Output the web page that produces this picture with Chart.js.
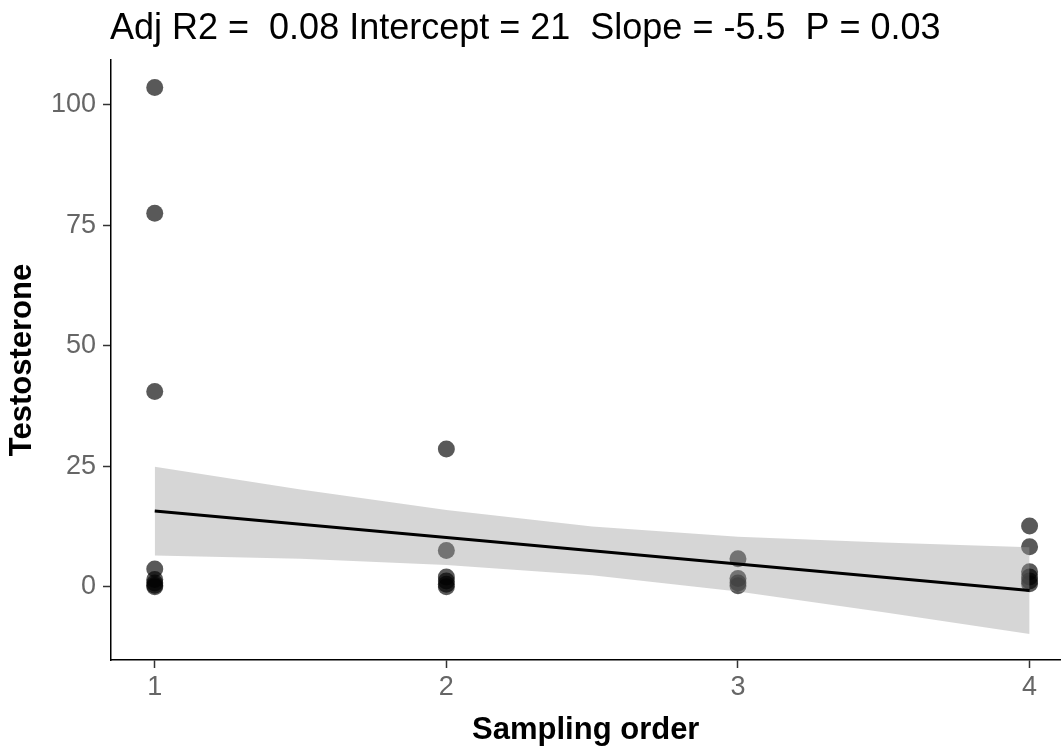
<!DOCTYPE html>
<html>
<head>
<meta charset="utf-8">
<script src="https://cdn.jsdelivr.net/npm/chart.js@4"></script>
<style>
  html, body { margin: 0; padding: 0; background: #fff; overflow: hidden; }
  /* slightly wider than the window: the reference panel is cut off at the right edge */
  #wrap { width: 1069px; height: 753px; }
</style>
</head>
<body>
<div id="wrap"><canvas id="testo-plot"></canvas></div>
<script>
// sampling order (x) and testosterone (y)
const sampleX = [1, 1, 1, 1, 1, 1, 1, 1,
                 2, 2, 2, 2, 2, 2,
                 3, 3, 3, 3,
                 4, 4, 4, 4, 4, 4]
const sampleY = [103.6, 77.5, 40.5, 3.7, 1.5, 0.8, 0.3, 0,
                 28.6, 7.5, 2.0, 1.2, 0.5, 0,
                 5.8, 1.7, 0.8, 0.2,
                 12.6, 8.3, 3.1, 2.0, 1.2, 0.6]

// fitted line and confidence band
const fitX = [1, 4]
const fitY = [15.7, -0.8]
const bandX = [1, 1.5, 2, 2.5, 3, 3.5, 4]
const bandUpper = [24.9, 20.2, 15.9, 12.5, 10.4, 9.2, 8.2]
const bandLower = [6.5, 5.8, 4.5, 2.4, -1.0, -5.3, -9.8]

const xTicks = [1, 2, 3, 4]
const yTicks = [0, 25, 50, 75, 100]
const titleText = 'Adj R2 =  0.08 Intercept = 21  Slope = -5.5  P = 0.03'

const FONT = '"Liberation Sans", Arial, sans-serif'
const toPts = (xs, ys) => xs.map((x, i) => ({ x: x, y: ys[i] }))

const titlePlugin = {
  id: 'topTitle',
  afterDraw(chart) {
    const ctx = chart.ctx
    ctx.save()
    ctx.fillStyle = '#000'
    ctx.font = '36px ' + FONT
    ctx.textBaseline = 'middle'
    ctx.fillText(titleText, 110, 29)
    ctx.restore()
  },
}

const axisGrid = { display: true, drawOnChartArea: false, drawTicks: true, tickLength: 8, tickColor: '#333', tickWidth: 1.5 }

const cfg = {
  type: 'scatter',
  data: {
    datasets: [
      {
        label: 'samples',
        data: toPts(sampleX, sampleY),
        backgroundColor: 'rgba(0,0,0,0.65)',
        borderWidth: 0,
        pointRadius: 8.5,
        order: 3,
      },
      {
        label: 'upper',
        type: 'line',
        data: toPts(bandX, bandUpper),
        borderWidth: 0,
        pointRadius: 0,
        backgroundColor: 'rgba(153,153,153,0.4)',
        fill: '+1',
        order: 2,
      },
      {
        label: 'lower',
        type: 'line',
        data: toPts(bandX, bandLower),
        borderWidth: 0,
        pointRadius: 0,
        fill: false,
        order: 2,
      },
      {
        label: 'fit',
        type: 'line',
        data: toPts(fitX, fitY),
        borderColor: '#000',
        borderWidth: 3,
        pointRadius: 0,
        fill: false,
        order: 1,
      },
    ],
  },
  options: {
    responsive: true,
    maintainAspectRatio: false,
    animation: false,
    layout: { padding: { top: 60, right: 0, left: 0, bottom: 0 } },
    plugins: {
      legend: { display: false },
      tooltip: { enabled: false },
    },
    scales: {
      x: {
        type: 'linear',
        min: 0.85,
        max: 4.106,
        afterBuildTicks: (s) => { s.ticks = xTicks.map(v => ({ value: v })) },
        afterFit: (s) => { s.height = 93 },
        grid: axisGrid,
        border: { display: true, color: '#000', width: 1.5 },
        ticks: { color: '#666', font: { family: FONT, size: 27 }, padding: 3 },
        title: { display: true, text: 'Sampling order', color: '#000', font: { family: FONT, size: 31, weight: 'bold' }, padding: { top: 0 } },
      },
      y: {
        type: 'linear',
        min: -15.2,
        max: 109.3,
        afterBuildTicks: (s) => { s.ticks = yTicks.map(v => ({ value: v })) },
        afterFit: (s) => { s.width = 111 },
        grid: axisGrid,
        border: { display: true, color: '#000', width: 1.5 },
        ticks: { color: '#666', font: { family: FONT, size: 27 }, padding: 7 },
        title: { display: true, text: 'Testosterone', color: '#000', font: { family: FONT, size: 31, weight: 'bold' }, padding: { bottom: 4 } },
      },
    },
  },
  plugins: [titlePlugin],
}

const plotCtx = document.getElementById('testo-plot')
window.testoChart = new Chart(plotCtx, cfg)
</script>
</body>
</html>
